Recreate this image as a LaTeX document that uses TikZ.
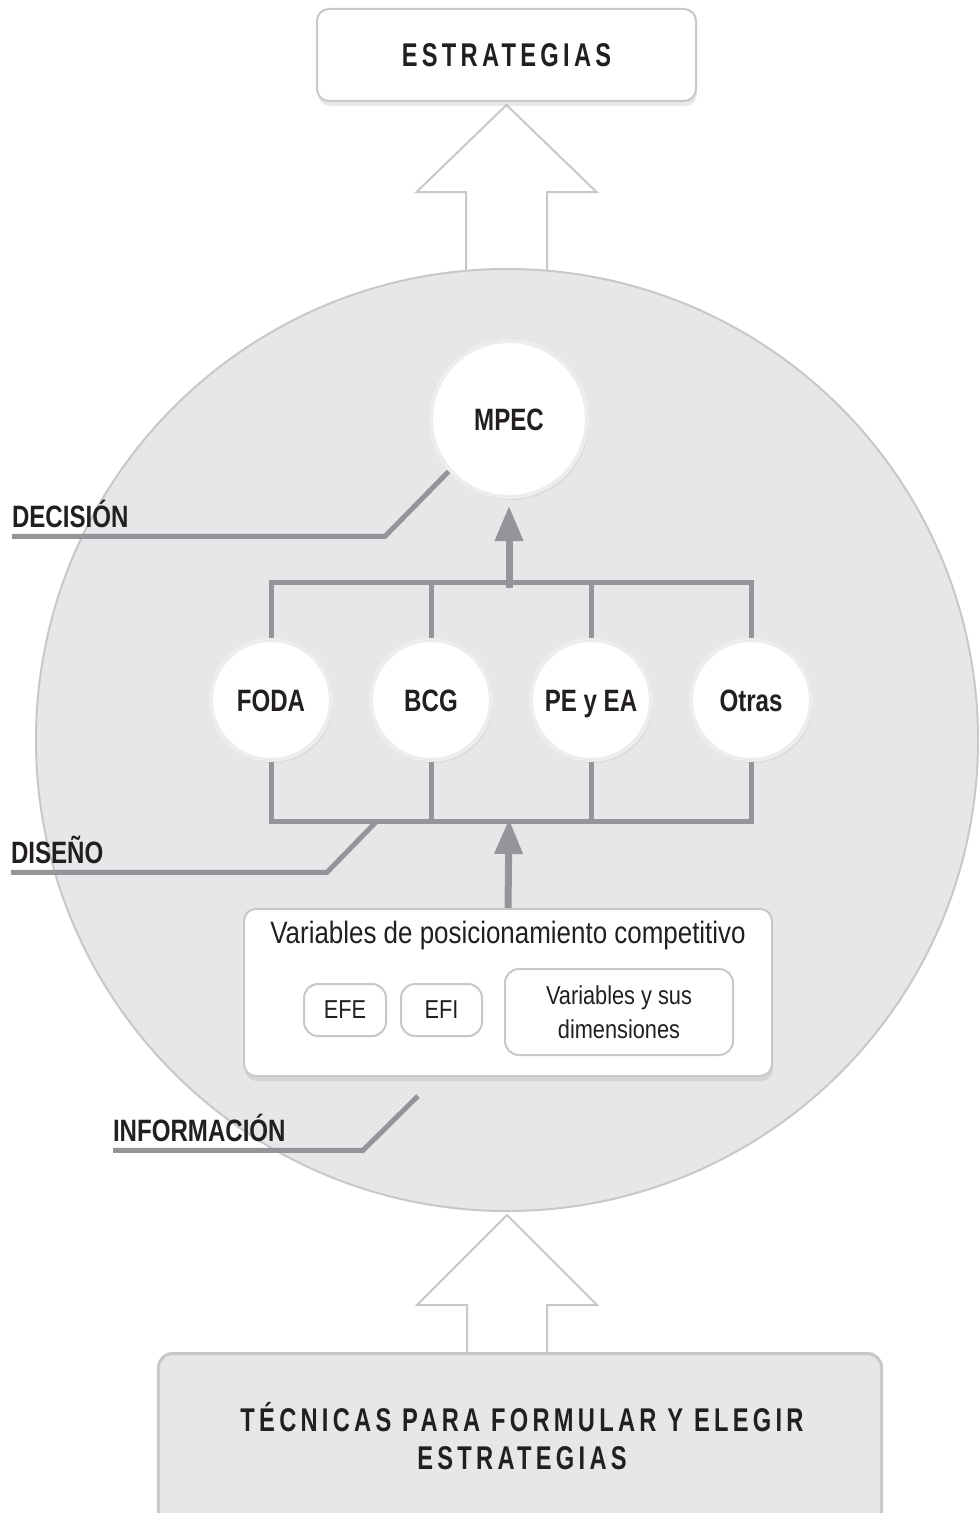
\documentclass[tikz,border=0pt]{standalone}
\usepackage{fontspec}
\setmainfont{Liberation Sans}[FakeStretch=0.84]
\newfontfamily\narrowfont{Liberation Sans}[FakeStretch=0.78]
\newfontfamily\spacedfont{Liberation Sans}[FakeStretch=0.72,LetterSpace=13]
\usetikzlibrary{positioning,arrows.meta,shadows,calc,backgrounds}
\definecolor{coregray}{HTML}{E6E7E8}
\definecolor{rimgray}{HTML}{C7C8CA}
\definecolor{linegray}{HTML}{939598}
\definecolor{inkblack}{HTML}{231F20}
\definecolor{ringwhite}{HTML}{EDEDEE}
\tikzset{
  headbox/.style={
    draw=rimgray, line width=2bp, fill=white, rounded corners=12bp,
    minimum width=379bp, minimum height=92bp, inner sep=0,
    text height=24bp, text depth=0bp,
    drop shadow={opacity=0.18, shadow xshift=1bp, shadow yshift=-5bp},
    font=\spacedfont\bfseries\fontsize{33}{38}\selectfont
  },
  footbox/.style={
    draw=rimgray, line width=3bp, fill=coregray, rounded corners=14bp,
    minimum width=723bp, minimum height=175bp, inner sep=0
  },
  foottext/.style={
    inner sep=0, align=center,
    font=\spacedfont\bfseries\fontsize{33}{38}\selectfont
  },
  core/.style={
    circle, draw=rimgray, line width=2bp, fill=coregray,
    minimum size=942bp, inner sep=0
  },
  roundnode/.style={
    circle, draw=ringwhite, line width=4bp, fill=white,
    minimum size=120bp, inner sep=0, text height=22bp, text depth=0bp,
    drop shadow={opacity=0.12, shadow xshift=2bp, shadow yshift=-3bp},
    font=\narrowfont\bfseries\fontsize{31}{34}\selectfont
  },
  varbox/.style={
    draw=rimgray, line width=2bp, fill=white, rounded corners=12bp,
    minimum width=528bp, minimum height=167bp, inner sep=0,
    drop shadow={opacity=0.18, shadow xshift=1bp, shadow yshift=-5bp}
  },
  smallbox/.style={
    draw=rimgray, line width=2bp, fill=white, rounded corners=14bp,
    minimum height=52bp, inner sep=0, align=center,
    font=\fontsize{26}{34}\selectfont
  },
  tag/.style={
    anchor=base west, inner sep=0, outer sep=0,
    font=\narrowfont\bfseries\fontsize{31}{34}\selectfont
  },
  bar/.style={draw=linegray, line width=5bp},
  lead/.style={draw=linegray, line width=5bp},
  uparrow/.style={draw=linegray, line width=7bp,
    -{Triangle[length=35bp,width=27bp]}},
  hollow/.style={draw=rimgray, line width=2bp, fill=white}
}

\begin{document}
\begin{tikzpicture}[x=1bp, y=-1bp, every node/.append style={text=inkblack}]
  \useasboundingbox (0,0) rectangle (978,1513);

  \node[headbox] (estr) at (506.5,55) {ESTRATEGIAS};
  \node[core] (core) at (507,740) {};
  \node[footbox] (tecnicas) at (520,1441) {};
  \node[foottext] (tecnicastext) at (522,1436) {TÉCNICAS PARA FORMULAR Y ELEGIR\\ESTRATEGIAS};

  % decision
  \node[roundnode, minimum size=156bp] (mpec) at (509,419) {MPEC};

  % design
  \node[roundnode] (foda) at (271,700) {FODA};
  \node[roundnode, right=36bp of foda] (bcg) {BCG};
  \node[roundnode, right=36bp of bcg] (peea) {PE y EA};
  \node[roundnode, right=36bp of peea] (otras) {Otras};

  % information
  \node[varbox] (vars) at (508,992.5) {};
  \node[font=\fontsize{31}{34}\selectfont] (varhead) at (508,936) {Variables de posicionamiento competitivo};
  \node[smallbox, minimum width=82bp] (efe) at (345,1010) {EFE};
  \node[smallbox, minimum width=81bp, right=13bp of efe] (efi) {EFI};
  \node[smallbox, minimum width=228bp, minimum height=86bp] (dims) at (619,1012) {Variables y sus\\dimensiones};

  % level labels
  \node[tag] (decision) at (12,527) {DECISIÓN};
  \node[tag] (design) at (11,863) {DISEÑO};
  \node[tag] (info) at (113,1141) {INFORMACIÓN};

  \coordinate (topbar) at (509,582);
  \coordinate (botbar) at (509,821);
  \coordinate (dhook) at (377,821);
  \coordinate (ihook) at (418,1096);

  \draw[bar] (foda.north) -- (foda.north |- topbar) -- (otras.north |- topbar) -- (otras.north);
  \draw[bar] (bcg.north) -- (bcg.north |- topbar);
  \draw[bar] (peea.north) -- (peea.north |- topbar);
  \draw[bar] (foda.south) -- (foda.south |- botbar) -- (otras.south |- botbar) -- (otras.south);
  \draw[bar] (bcg.south) -- (bcg.south |- botbar);
  \draw[bar] (peea.south) -- (peea.south |- botbar);

  \draw[uparrow, shorten >=7bp] ([yshift=-6bp]topbar) -- (mpec.south);
  \draw[uparrow, shorten >=-2bp] (vars.north) -- (botbar);

  \draw[lead] ([yshift=-9bp]decision.south west) -- ++(373,0) -- (mpec.221);
  \draw[lead] ([yshift=-9bp]design.south west) -- ++(316,0) -- (dhook);
  \draw[lead] ([yshift=-9bp]info.south west) -- ++(250,0) -- (ihook);

  \begin{scope}[on background layer]
    \draw[hollow] ([yshift=-3bp]estr.south) -- ++(90,87) -- ++(-49.5,0) -- ++(0,110)
      -- ++(-81,0) -- ++(0,-110) -- ++(-49.5,0) -- cycle;
    \draw[hollow] ([yshift=-3bp]core.south) -- ++(90,90) -- ++(-50,0) -- ++(0,60)
      -- ++(-80,0) -- ++(0,-60) -- ++(-50,0) -- cycle;
  \end{scope}
\end{tikzpicture}
\end{document}
